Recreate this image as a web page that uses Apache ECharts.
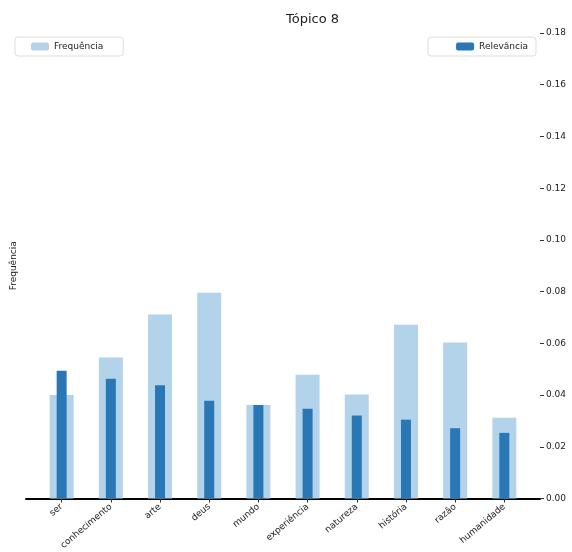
<!DOCTYPE html>
<html>
<head>
<meta charset="utf-8">
<script src="https://cdn.jsdelivr.net/npm/echarts@6/dist/echarts.min.js"></script>
<style>html,body{margin:0;padding:0;background:#fff;}#c{width:572px;height:552px;}</style>
</head>
<body>
<div id="c"></div>
<script>
const categories = ["ser", "conhecimento", "arte", "deus", "mundo", "experiência", "natureza", "história", "razão", "humanidade"];
const frequencia = [0.040, 0.0545, 0.0712, 0.0796, 0.0362, 0.0479, 0.0402, 0.0672, 0.0603, 0.0312];
const relevancia = [0.0494, 0.0463, 0.0438, 0.0378, 0.0362, 0.0347, 0.0321, 0.0305, 0.0272, 0.0254];
const yTicks = [0, 0.02, 0.04, 0.06, 0.08, 0.10, 0.12, 0.14, 0.16, 0.18];
const titleText = "Tópico 8";
const yName = "Frequência";

const idx = categories.map((_, i) => i);
const font = "DejaVu Sans";
const chart = echarts.init(document.getElementById('c'), null, {renderer: 'canvas'});
const xBase = {
  type: 'value', min: -0.725, max: 9.725,
  splitLine: {show: false}
};
chart.setOption({
  animation: false,
  textStyle: {fontFamily: font},
  title: {text: titleText, left: 281, top: 8, textStyle: {fontSize: 13, fontWeight: 'normal', color: '#222', fontFamily: font}},
  legend: [
    {data: ['Frequência'], left: 15, top: 37, itemWidth: 18, itemHeight: 8, borderColor: '#dddddd', borderWidth: 1, borderRadius: 3, padding: [5, 20, 5, 16], textStyle: {fontSize: 9, color: '#222', fontFamily: font}},
    {data: ['Relevância'], right: 36, top: 37, itemWidth: 18, itemHeight: 8, borderColor: '#dddddd', borderWidth: 1, borderRadius: 3, padding: [5, 8, 5, 28], textStyle: {fontSize: 9, color: '#222', fontFamily: font}}
  ],
  grid: {left: 26, right: 32, top: 33, bottom: 45, containLabel: false},
  xAxis: [
    Object.assign({}, xBase, {
      position: 'bottom',
      axisLine: {show: true, onZero: false, lineStyle: {color: '#000', width: 2}},
      axisTick: {show: true, customValues: idx, length: 4, lineStyle: {color: '#333'}},
      axisLabel: {customValues: idx, formatter: v => categories[Math.round(v)] || '', rotate: 40, fontSize: 9, color: '#222', margin: 7, fontFamily: font}
    }),
    Object.assign({}, xBase, {show: false})
  ],
  yAxis: [
    {type: 'value', position: 'right', min: 0, max: 0.18, interval: 0.02,
     axisLine: {show: false, onZero: false}, splitLine: {show: false},
     axisTick: {show: true, length: 4, lineStyle: {color: '#333'}},
     axisLabel: {fontSize: 9, color: '#222', margin: 6, fontFamily: font, formatter: v => v.toFixed(2)}},
    {type: 'value', position: 'left', min: 0, max: 0.18, interval: 0.02,
     name: yName, nameLocation: 'middle', nameGap: 8, nameRotate: 90,
     nameTextStyle: {fontSize: 9, color: '#222', fontFamily: font},
     axisLine: {show: false, onZero: false}, axisTick: {show: false}, axisLabel: {show: false}, splitLine: {show: false}}
  ],
  series: [
    {name: 'Frequência', type: 'bar', xAxisIndex: 0, yAxisIndex: 0, barWidth: 24, z: 2,
     itemStyle: {color: '#b3d3ea'}, data: frequencia.map((v, i) => [idx[i], v])},
    {name: 'Relevância', type: 'bar', xAxisIndex: 1, yAxisIndex: 0, barWidth: 10, z: 3,
     itemStyle: {color: '#2a77b6'}, data: relevancia.map((v, i) => [idx[i], v])}
  ]
});
</script>
</body>
</html>
